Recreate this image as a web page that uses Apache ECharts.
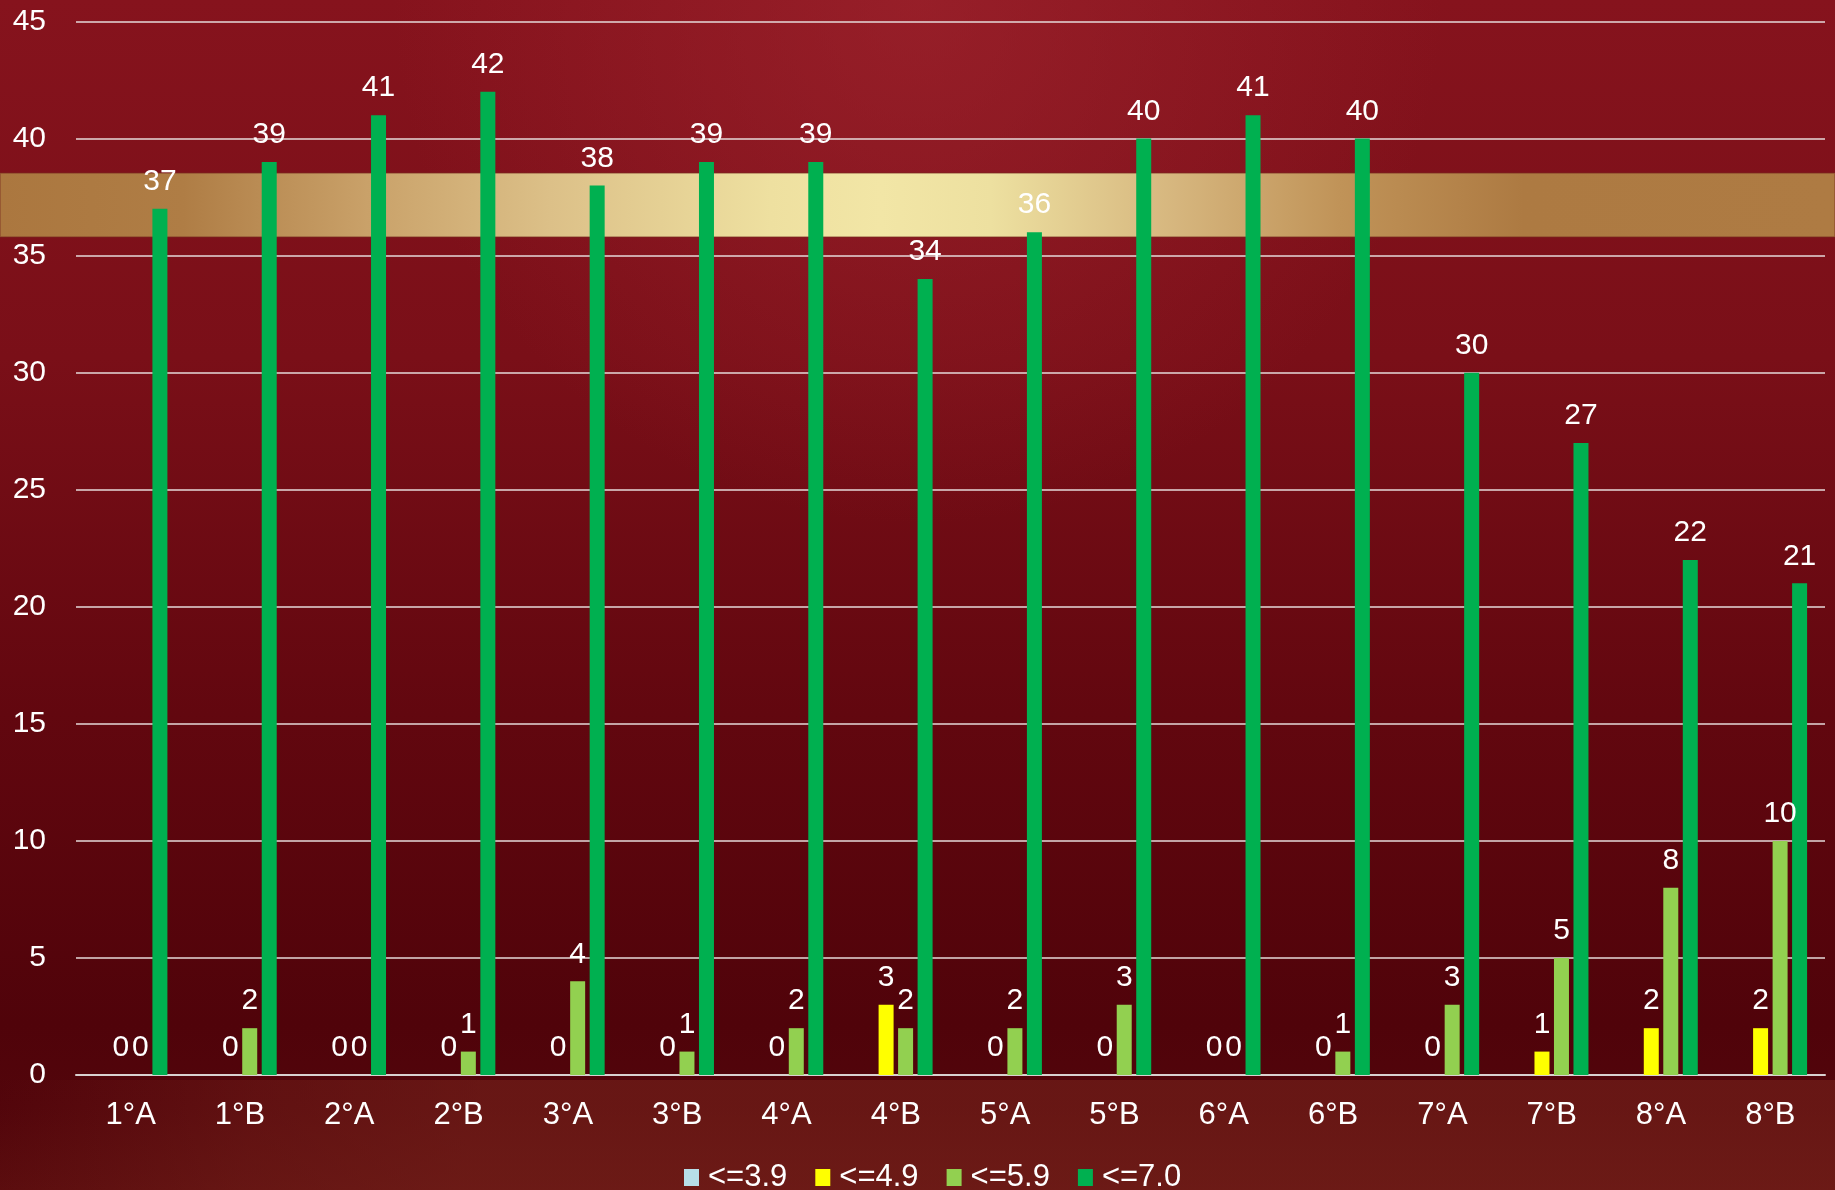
<!DOCTYPE html>
<html>
<head>
    <meta charset="utf-8">
    <title>ECharts</title>
    <script src="https://cdn.jsdelivr.net/npm/echarts@6/dist/echarts.min.js"></script>
    <style>
        html, body { margin: 0; padding: 0; background: #5a0810; }
    </style>
</head>
<body>
<div id="main" style="width: 1835px;height:1190px;"></div>
<script type="text/javascript">
    // datos del gráfico
    var cursos = ['1°A', '1°B', '2°A', '2°B', '3°A', '3°B', '4°A', '4°B',
                  '5°A', '5°B', '6°A', '6°B', '7°A', '7°B', '8°A', '8°B'];
    var hasta39 = [null, null, null, null, null, null, null, null,
                   null, null, null, null, null, null, null, null];
    var hasta49 = [0, 0, 0, 0, 0, 0, 0, 3, 0, 0, 0, 0, 0, 1, 2, 2];
    var hasta59 = [0, 2, 0, 1, 4, 1, 2, 2, 2, 3, 0, 1, 3, 5, 8, 10];
    var hasta70 = [37, 39, 41, 42, 38, 39, 39, 34, 36, 40, 41, 40, 30, 27, 22, 21];
    var nombres = ['<=3.9', '<=4.9', '<=5.9', '<=7.0'];
    var colores = ['#B7DEE8', '#FFFF00', '#92D050', '#00B050'];

    var fuente = "'Liberation Sans', Arial, sans-serif";

    var myChart = echarts.init(document.getElementById('main'));

    function serie(i, datos) {
        return {
            name: nombres[i],
            type: 'bar',
            data: datos,
            barWidth: 15,
            barGap: '30%',
            itemStyle: { color: colores[i] },
            label: {
                show: true,
                position: 'top',
                distance: 12,
                color: '#fff',
                fontSize: 30,
                fontFamily: fuente
            }
        };
    }

    var option = {
        animation: false,
        graphic: [
            {   // fondo rojo
                type: 'rect', z: -100, silent: true,
                shape: { x: 0, y: 0, width: 1835, height: 1190 },
                style: {
                    fill: new echarts.graphic.LinearGradient(0, 0, 0, 1, [
                        { offset: 0, color: '#86131d' },
                        { offset: 0.3, color: '#7a0f18' },
                        { offset: 0.6, color: '#62070f' },
                        { offset: 0.86, color: '#50030a' },
                        { offset: 0.93, color: '#52050b' },
                        { offset: 1, color: '#5a0c0e' }
                    ])
                }
            },
            {   // brillo superior
                type: 'rect', z: -99, silent: true,
                shape: { x: 0, y: 0, width: 1835, height: 700 },
                style: {
                    fill: new echarts.graphic.RadialGradient(0.5, 0, 0.75, [
                        { offset: 0, color: 'rgba(165,40,50,0.55)' },
                        { offset: 1, color: 'rgba(165,40,50,0)' }
                    ])
                }
            },
            {   // reflejo inferior
                type: 'rect', z: -98, silent: true,
                shape: { x: 0, y: 1080, width: 1835, height: 110 },
                style: {
                    fill: new echarts.graphic.LinearGradient(0, 0, 0.25, 1, [
                        { offset: 0, color: 'rgba(125,40,30,0)' },
                        { offset: 0.55, color: 'rgba(125,40,30,0.35)' },
                        { offset: 1, color: 'rgba(125,40,30,0.5)' }
                    ])
                }
            },
            {   // banda dorada
                type: 'rect', z: -97, silent: true,
                shape: { x: 0, y: 173, width: 1835, height: 64 },
                style: {
                    fill: new echarts.graphic.LinearGradient(0, 0, 1, 0, [
                        { offset: 0, color: '#ab773f' },
                        { offset: 0.1, color: '#af7d45' },
                        { offset: 0.2, color: '#c9a169' },
                        { offset: 0.3, color: '#dcc088' },
                        { offset: 0.42, color: '#eee0a0' },
                        { offset: 0.48, color: '#f2e6a6' },
                        { offset: 0.54, color: '#ede0a0' },
                        { offset: 0.64, color: '#d6b67e' },
                        { offset: 0.73, color: '#c09358' },
                        { offset: 0.83, color: '#ad7a42' },
                        { offset: 1, color: '#ae7b43' }
                    ]),
                    stroke: 'rgba(120,40,30,0.5)',
                    lineWidth: 1.5
                }
            }
        ],
        grid: {
            left: 76,
            right: 10,
            top: 21.5,
            bottom: 115
        },
        legend: {
            data: nombres,
            icon: 'rect',
            left: 679,
            top: 1157,
            itemWidth: 15,
            itemHeight: 17,
            itemGap: 28,
            textStyle: {
                color: '#fff', fontSize: 31, fontFamily: fuente,
                padding: [0, 0, 0, 4]
            }
        },
        xAxis: {
            type: 'category',
            data: cursos,
            axisLine: { show: true, lineStyle: { color: '#d9d0d0', width: 2 } },
            axisTick: { show: false },
            axisLabel: { color: '#fff', fontSize: 31, fontFamily: fuente, margin: 25 }
        },
        yAxis: {
            type: 'value',
            min: 0,
            max: 45,
            interval: 5,
            axisLine: { show: false },
            axisTick: { show: false },
            axisLabel: { color: '#fff', fontSize: 30, fontFamily: fuente, margin: 30 },
            splitLine: { lineStyle: { color: '#e6dada', width: 1.5 } }
        },
        series: [
            serie(0, hasta39),
            serie(1, hasta49),
            serie(2, hasta59),
            serie(3, hasta70)
        ]
    };

    myChart.setOption(option);
</script>
</body>
</html>
